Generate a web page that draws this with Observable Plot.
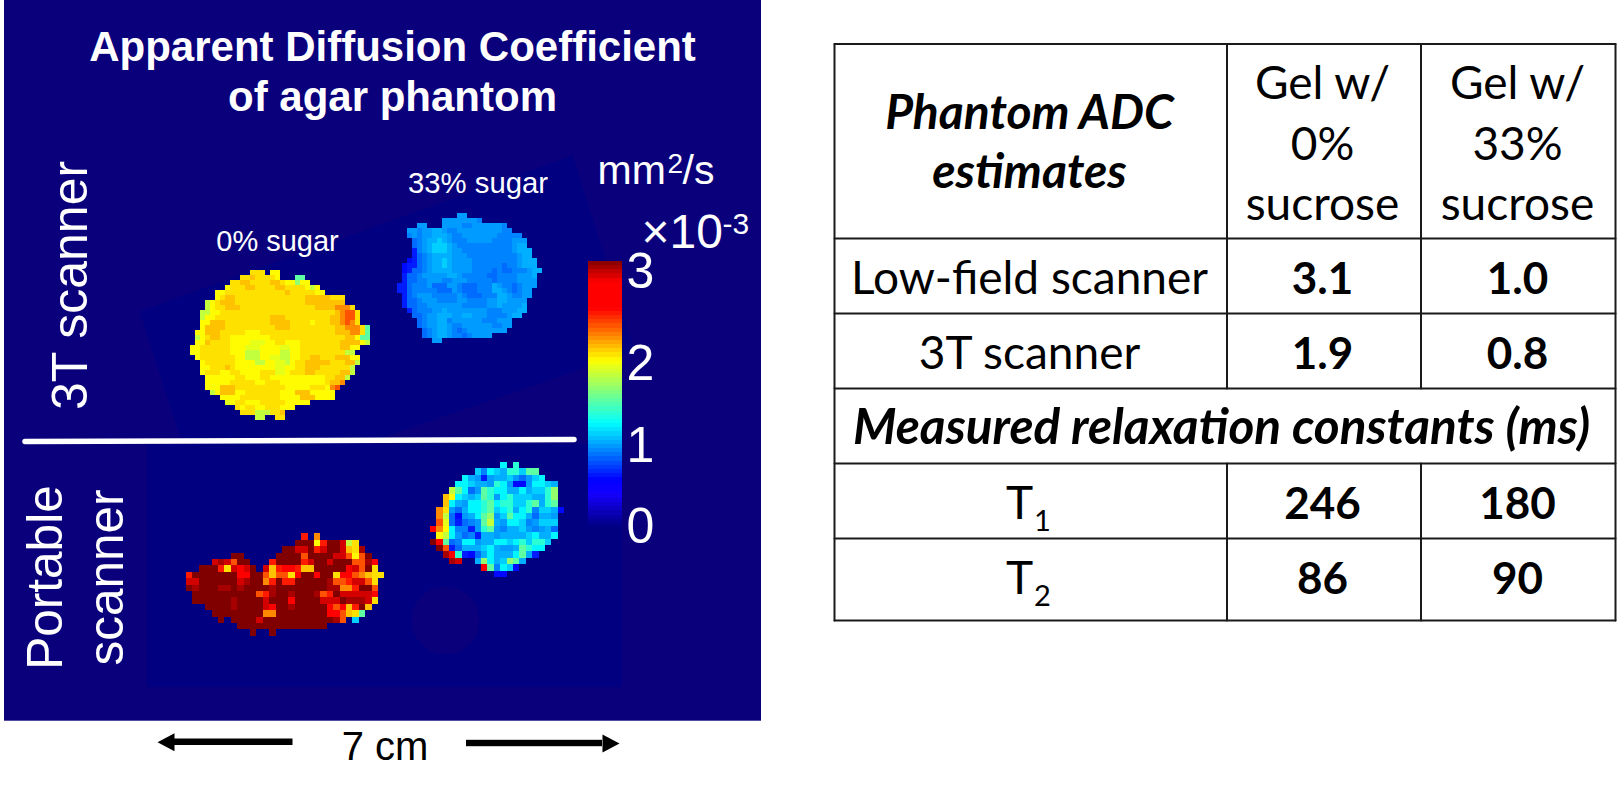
<!DOCTYPE html>
<html>
<head>
<meta charset="utf-8">
<script src="https://cdn.jsdelivr.net/npm/d3@7"></script>
<script src="https://cdn.jsdelivr.net/npm/@observablehq/plot@0.6"></script>
<style>
  html, body { margin: 0; padding: 0; background: #fff; }
  svg { display: block; }
</style>
</head>
<body>
<div id="chart"></div>
<script>
// ---- Values ----
const chartTitle = ["Apparent Diffusion Coefficient", "of agar phantom"];
const tickValues = [3, 2, 1, 0];
const colorStops = [0, 0.38, 0.53, 1.17, 1.88, 2.47, 2.77, 3];
const colorRange = ["#000080", "#1400ff", "#0000ff", "#00ffff", "#ffff00", "#ff0000", "#ff0000", "#800000"];

// ADC codes used in the four maps (x10^-3 mm2/s)
const codeLetters = "abcdefghijklmnopqrstuvw";
const codeValues = [0.55, 0.6, 0.8, 0.86, 0.92, 0.97, 1.05, 1.15, 1.29, 1.43, 1.58, 1.71, 1.81, 1.89, 1.95, 2.02, 2.15, 2.28, 2.41, 2.6, 2.85, 2.93, 3.0];

const map3T0 = [
"            ooo nn",
"          oopoooon   jj",
"        ooppoooopponnknn",
"       noooppooooppoooonln",
"     nnoooooooooooopooooonn",
"     noppoooooooooooooopppppooo",
"   lnopppoooooooooooooopppppppp",
"   lnoopppoooooooooooooooppppqqqo",
"  llnnooooooooooooooooooooooopqrro",
"  lnnooooooooooopppoooooooooppqrro",
"  nnpppoooooooooppppoooonoooppqrqo",
"  nppppoooooooooopppoooooooooppqqqoj",
" nnpppooooonnnooooooooooooooopppqqoj",
" lnoppoonnnnnnnnoooooooooooooooppnjj",
" nnpoooonnnnmmmnnoonnnooooooooppppnl",
"nnoooooonnnmmmnnnnmmnnooooooooppnn",
"nnoooooonnnlllnnnnllnnoooooooooll",
" nooooooonnlllnnmmllnnooppooopppnn",
"  noooooonnnnllnnmmlnoopppppoooppl",
"  nnoooponnnnnnnnmmnnoopppooooool",
"  nooonnoonnnnooommnoooppoooooppl",
"   nnnnnnoonnnoonnnnnnnnnnnooppl",
"   nnnnnooooonnooonnnnnnnnnoppq",
"   nnnpppoooooooooonnnnnooonqr",
"    lnpppnnooooooonnnpppnnnnn",
"      nnnnoooooooonnnnpppnnnn",
"       mnoonnnooooonnnnn",
"         onoonnooonnn",
"          ooollloop",
"             ll  oo"
];

const map3T33 = [
"            ee",
"         eeeeeeed",
"    ee   eeeeddeeeeeed",
"  eedeeffeddeeeeeeeeedd",
"  dedeefffeddeeeeeeeddddd",
"   cdeffgfedddeeeeeddddeee",
"   cdefgggfedddddddddddeff",
"   bdefgggfeeddddddddddefff",
"   bcdeffffeeeddddddddddeff",
"  abcdeffgfeeeedddddddddefff",
" abbcdeffgfeeeeddddddcddefff",
" abccdeffffeeeeddddcdccdddeff",
" bccdeeeeeffedddddccddddeeef",
" bccddeeeddeeedddddcddddeeee",
"bbcdddeccceedcccdddfeddcdeee",
"bbcdddddcccedcccdddffedcdee",
" bcdeeedddddedcccdddffeddee",
" bccdeeeddddeeddddeeffeeee",
" bccddeeeeeeedddddeefeeeef",
"  bcdddeefeeeeeeeedddeeeff",
"   ccdeefffeeffeeeddddeff",
"    cdeeffdeeeeeedddeee",
"    cdeeffeddeeeeeeddee",
"     cdeffedcdeeeeeeee",
"     cdeffeddcdeeee",
"       ee"
];

const mapPortable0 = [
"                  s q",
"                 wwwnswwulo",
"               wwuuwsuwwupov",
"       ww     wwwwrwwwwuurnrw",
"    uvurww   swwwwsuwwuwwwrrvt",
"  wwwsoutuw upsttsppwwwwwturwo",
"swwwwwwwttwwrprrotwwtwwottrqpoo",
"uuwwwwwwuvwwqswsswwwwwvrrsuuro",
"wvwwwvvwvwwwwvwwwwwwwwvvqqswwr",
" wwwwwwwwwwrsvwwvwwwvrswuuuuut",
" wwwwwwvwwwwuwwwtwwwwuuuwvvvuo",
"   wwwwvwwwwutwwvwwwwwtrtpswp",
"    wwwwwwwwqqwwwwwwwwttrpoj",
"     w wwwwuwwwwwwwwwwwvr g",
"        wwwwwwwwwwwwww",
"          w  w"
];

const mapPortable33 = [
"           h i",
"       gdhgfiigjj",
"     hfebeffgecegh",
"    hhgffeiheaaehhgf",
"   ljhcejihhffhfggik",
"  pnhgfgjiehigggffik",
"  phfehhijhiiggijfij",
" qoecfhhijghifhidggfa",
" qlcaefhjkegjhhfcffe",
" rmcbcdejlfehhgdeggg",
"tqnhddbeijedffgedefc",
" nlhecdbffeffffghffh",
"wtjcdhheffhhghigiig",
" wrbcfffghfeefjihh",
"  vtibacfhfffhjfb",
"   vu  fkhfgkjf",
"        tjdhga",
"          aa"
];

// ---- Layout (pixels of the figure) ----
const W = 1617, H = 795;
const panelBg = "#0a007c", imageBg = "#000080";
const font = "'Liberation Sans', Arial, sans-serif";
const tableFont = "Lato, sans-serif";
const decode = (rows, ox, oy, size) => rows.flatMap((row, r) =>
  Array.from(row).flatMap((ch, c) => {
    const k = codeLetters.indexOf(ch);
    return k < 0 ? [] : [{x1: ox + c * size, x2: ox + (c + 1) * size, y1: oy + r * size, y2: oy + (r + 1) * size, value: codeValues[k]}];
  }));
const cells = [
  ...decode(map3T0, 190, 270, 5),
  ...decode(map3T33, 396.7, 213.3, 5),
  ...decode(mapPortable0, 186, 533.3, 6.4),
  ...decode(mapPortable33, 429.7, 461.7, 6.4)
];

// colour bar: 64 bands over 0..3
const barTop = 261, barBottom = 527;
const barBands = d3.range(64).map(i => ({
  value: (i + 0.5) / 64 * 3,
  y1: barBottom - (i / 64) * (barBottom - barTop),
  y2: barBottom - ((i + 1) / 64) * (barBottom - barTop)
}));

const label = (text, x, y, o = {}) => Plot.text([text], {
  text: d => d, x: () => x, y: () => y,
  textAnchor: "middle", lineAnchor: "bottom", fill: "white", fontFamily: font, ...o
});
const poly = (pts, fill) => Plot.line(pts, {x: d => d[0], y: d => d[1], fill, stroke: "none", curve: "linear-closed"});
const rule = (x1, y1, x2, y2, o = {}) => Plot.line([[x1, y1], [x2, y2]], {x: d => d[0], y: d => d[1], stroke: "#1a1a1a", strokeWidth: 2, ...o});
const box = (x1, y1, x2, y2, fill) => Plot.rect([0], {x1: () => x1, x2: () => x2, y1: () => y1, y2: () => y2, fill});

// table geometry and text
const tableLeft = 834, col1 = 1226.5, col2 = 1420.5, tableRight = 1615;
const rowLines = [43.5, 238, 313, 388, 463, 538, 620];
const cx0 = 1029, cx1 = 1322, cx2 = 1517;
const T = (s, x, y, o = {}) => label(s, x, y, {fill: "black", fontFamily: tableFont, fontSize: 46, ...o});
const bold = {fontWeight: "bold", fontSize: 44};
const bi = {fontWeight: "bold", fontStyle: "italic", fontSize: 48};

const tickBaselines = [287, 379, 461, 542];

const chart = Plot.plot({
  width: W, height: H,
  margin: 0,
  x: {domain: [0, W], range: [0, W], axis: null},
  y: {domain: [0, H], range: [0, H], axis: null},
  color: {type: "linear", domain: colorStops, range: colorRange, interpolate: "rgb"},
  style: {background: "white"},
  marks: [
    box(4, 0, 761, 720.7, panelBg),
    poly([[139, 311], [572, 155], [634, 350], [200, 500]], imageBg),
    box(147, 444, 622, 687, imageBg),
    Plot.dot([0], {x: () => 445, y: () => 620, r: 34, fill: panelBg}),
    Plot.rect(cells, {x1: "x1", x2: "x2", y1: "y1", y2: "y2", fill: "value", shapeRendering: "crispEdges"}),
    Plot.rect(barBands, {x1: () => 588, x2: () => 622, y1: "y1", y2: "y2", fill: "value", shapeRendering: "crispEdges"}),
    Plot.line([[24.5, 441], [573.5, 439]], {x: d => d[0], y: d => d[1], stroke: "white", strokeWidth: 5.5}),
    label(chartTitle[0], 392, 60, {fontSize: 42, fontWeight: "bold"}),
    label(chartTitle[1], 392, 110, {fontSize: 42, fontWeight: "bold"}),
    label("3T scanner", 86, 285, {fontSize: 50, rotate: -90}),
    label("Portable", 61, 577, {fontSize: 49.5, rotate: -90}),
    label("scanner", 122, 577, {fontSize: 49.5, rotate: -90}),
    label("0% sugar", 277, 250, {fontSize: 29}),
    label("33% sugar", 477.5, 192, {fontSize: 29.3}),
    label("mm", 597, 183, {fontSize: 41, textAnchor: "start"}),
    label("2", 667, 172, {fontSize: 28, textAnchor: "start"}),
    label("/s", 682, 183, {fontSize: 41, textAnchor: "start"}),
    label("×10", 641, 247, {fontSize: 48, textAnchor: "start"}),
    label("-3", 722, 233, {fontSize: 30, textAnchor: "start"}),
    ...tickValues.map((v, i) => label(String(v), 640, tickBaselines[i], {fontSize: 50})),
    // 7 cm scale
    label("7 cm", 384.5, 759, {fontSize: 40, fill: "black"}),
    box(174, 738.5, 292.5, 745, "black"),
    poly([[157, 741.7], [174, 732.7], [174, 750.7]], "black"),
    box(466, 739.8, 602, 746.2, "black"),
    poly([[619, 743], [602, 734], [602, 752]], "black"),
    // table
    ...rowLines.map(y => rule(tableLeft, y, tableRight, y)),
    rule(tableLeft, rowLines[0], tableLeft, rowLines[6]),
    rule(tableRight, rowLines[0], tableRight, rowLines[6]),
    rule(col1, rowLines[0], col1, rowLines[3]),
    rule(col2, rowLines[0], col2, rowLines[3]),
    rule(col1, rowLines[4], col1, rowLines[6]),
    rule(col2, rowLines[4], col2, rowLines[6]),
    T("Phantom ADC", cx0, 128, bi),
    T("estimates", cx0, 187, bi),
    T("Gel w/", cx1, 98), T("0%", cx1, 159), T("sucrose", cx1, 219),
    T("Gel w/", cx2, 98), T("33%", cx2, 159), T("sucrose", cx2, 219),
    T("Low-field scanner", cx0, 293),
    T("3.1", cx1, 293, bold), T("1.0", cx2, 293, bold),
    T("3T scanner", cx0, 368),
    T("1.9", cx1, 368, bold), T("0.8", cx2, 368, bold),
    T("Measured relaxation constants (ms)", 1221, 443, {...bi, fontSize: 49.5}),
    T("T", 1019, 518), T("1", 1042, 530, {fontSize: 29}),
    T("246", cx1, 518, bold), T("180", cx2, 518, bold),
    T("T", 1019, 593), T("2", 1042, 605, {fontSize: 29}),
    T("86", cx1, 593, bold), T("90", cx2, 593, bold)
  ]
});
document.getElementById("chart").appendChild(chart);
</script>
</body>
</html>
